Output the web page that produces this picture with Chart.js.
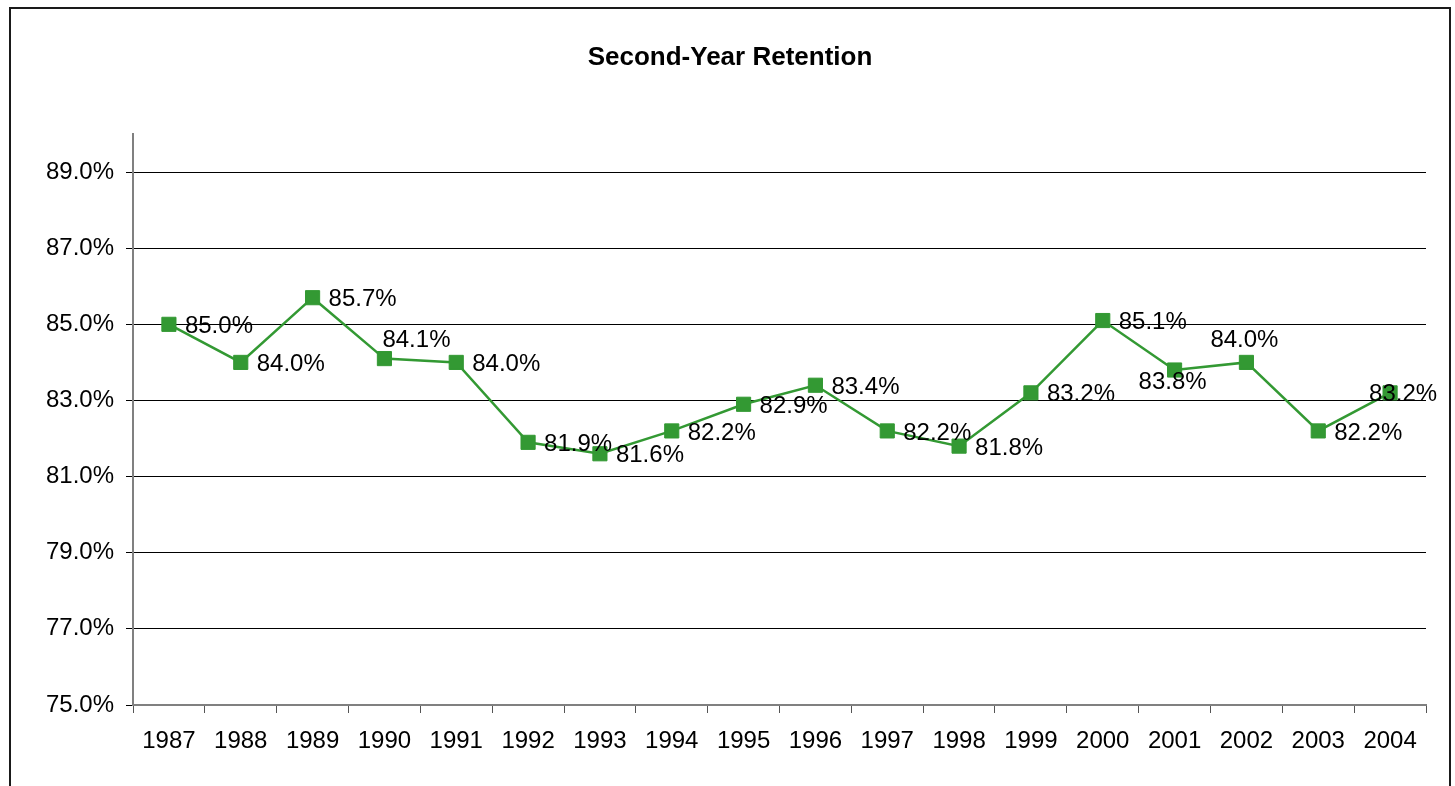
<!DOCTYPE html>
<html>
<head>
<meta charset="utf-8">
<title>Second-Year Retention</title>
<script src="https://cdn.jsdelivr.net/npm/chart.js@4.4.1/dist/chart.umd.min.js"></script>
<style>
  html, body { margin: 0; padding: 0; background: #fff; }
  #wrap { width: 1455px; height: 786px; overflow: hidden; }
</style>
</head>
<body>
<div id="wrap"><canvas id="c" width="1455" height="786"></canvas></div>
<script>
const TITLE = 'Second-Year Retention';
const YEARS = [
  '1987', '1988', '1989', '1990', '1991', '1992', '1993', '1994', '1995',
  '1996', '1997', '1998', '1999', '2000', '2001', '2002', '2003', '2004',
];
const RETENTION = [
  85.0, 84.0, 85.7, 84.1, 84.0, 81.9, 81.6, 82.2, 82.9,
  83.4, 82.2, 81.8, 83.2, 85.1, 83.8, 84.0, 82.2, 83.2,
];
const Y_TICKS = [75, 77, 79, 81, 83, 85, 87, 89];

// where each value label sits next to its marker (r=right, a=above, ar=above-right, b=below, c=on top)
const LABEL_SPOT = ['r', 'r', 'r', 'ar', 'r', 'r', 'r', 'r', 'r', 'r', 'r', 'r', 'r', 'r', 'b', 'a', 'r', 'c'];

const FONT = '"Liberation Sans", Arial, sans-serif';
const GREEN = '#339933';

const frameAndTitle = {
  id: 'frameAndTitle',
  beforeDraw(chart) {
    const ctx = chart.ctx;
    ctx.save();
    ctx.fillStyle = '#fff';
    ctx.fillRect(0, 0, chart.width, chart.height);
    ctx.strokeStyle = '#1a1a1a';
    ctx.lineWidth = 2;
    ctx.strokeRect(10, 8, 1440, 900);
    ctx.font = 'bold 26px ' + FONT;
    ctx.fillStyle = '#000';
    ctx.textAlign = 'center';
    ctx.textBaseline = 'middle';
    ctx.fillText(TITLE, 730, 58);
    ctx.restore();
  },
};

const valueLabels = {
  id: 'valueLabels',
  afterDatasetsDraw(chart) {
    const ctx = chart.ctx;
    const meta = chart.getDatasetMeta(0);
    ctx.save();
    ctx.font = '24px ' + FONT;
    ctx.fillStyle = '#000';
    ctx.textBaseline = 'middle';
    meta.data.forEach((pt, i) => {
      const txt = RETENTION[i].toFixed(1) + '%';
      const spot = LABEL_SPOT[i];
      let x = pt.x, y = pt.y + 2;
      if (spot === 'r') { ctx.textAlign = 'left'; x += 16; }
      else if (spot === 'ar') { ctx.textAlign = 'left'; x -= 2; y -= 20; }
      else if (spot === 'a') { ctx.textAlign = 'center'; x -= 2; y -= 24; }
      else if (spot === 'b') { ctx.textAlign = 'center'; x -= 2; y += 10; }
      else { ctx.textAlign = 'center'; x += 13; }
      ctx.fillText(txt, x, y);
    });
    ctx.restore();
  },
};

new Chart(document.getElementById('c'), {
  type: 'line',
  data: {
    labels: YEARS,
    datasets: [
      {
        data: RETENTION,
        borderColor: GREEN,
        borderWidth: 2.5,
        tension: 0,
        pointStyle: 'rect',
        pointRadius: 10,
        pointBorderWidth: 1,
        pointBackgroundColor: GREEN,
        pointBorderColor: GREEN,
      },
    ],
  },
  options: {
    responsive: false,
    animation: false,
    layout: { padding: { left: 0, top: 134, right: 29, bottom: 0 } },
    plugins: {
      legend: { display: false },
      tooltip: { enabled: false },
      title: { display: false },
    },
    scales: {
      x: {
        offset: true,
        grid: { offset: true, drawOnChartArea: false, drawTicks: true, tickLength: 8, color: '#555' },
        border: { color: '#808080', width: 2 },
        ticks: { color: '#000', font: { family: FONT, size: 24 }, padding: 14, maxRotation: 0, autoSkip: false },
        afterFit(s) { s.height = 81; },
      },
      y: {
        min: 75,
        max: 90,
        afterBuildTicks(s) { s.ticks = Y_TICKS.map((v) => ({ value: v })); },
        grid: { color: '#000', lineWidth: 1, drawTicks: true, tickLength: 7 },
        border: { color: '#808080', width: 2 },
        ticks: {
          color: '#000',
          font: { family: FONT, size: 24 },
          padding: 12,
          callback: (v) => Number(v).toFixed(1) + '%',
        },
        afterFit(s) { s.width = 133; },
      },
    },
  },
  plugins: [frameAndTitle, valueLabels],
});
</script>
</body>
</html>
